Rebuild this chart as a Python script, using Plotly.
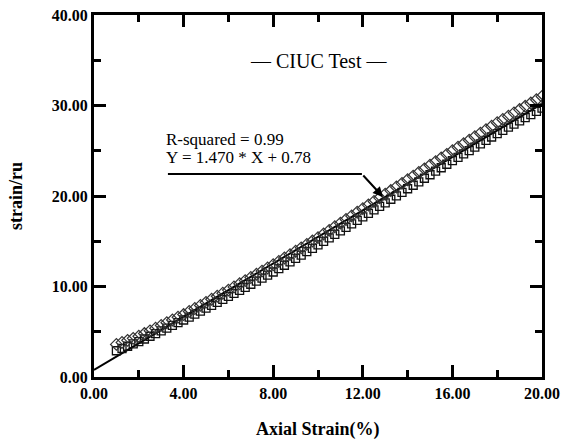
import plotly.graph_objects as go

# Axial strain (%) sample positions
strain_x = [1.00, 1.25, 1.50, 1.75, 2.00, 2.25, 2.50, 2.75, 3.00, 3.25, 3.50, 3.75,
            4.00, 4.25, 4.50, 4.75, 5.00, 5.25, 5.50, 5.75, 6.00, 6.25, 6.50, 6.75,
            7.00, 7.25, 7.50, 7.75, 8.00, 8.25, 8.50, 8.75, 9.00, 9.25, 9.50, 9.75,
            10.00, 10.25, 10.50, 10.75, 11.00, 11.25, 11.50, 11.75, 12.00, 12.25, 12.50, 12.75,
            13.00, 13.25, 13.50, 13.75, 14.00, 14.25, 14.50, 14.75, 15.00, 15.25, 15.50, 15.75,
            16.00, 16.25, 16.50, 16.75, 17.00, 17.25, 17.50, 17.75, 18.00, 18.25, 18.50, 18.75,
            19.00, 19.25, 19.50, 19.75, 20.00]

# lower series (squares)
square_y = [2.90, 3.15, 3.40, 3.65, 3.90, 4.20, 4.50, 4.80, 5.10, 5.40, 5.70, 6.00,
            6.30, 6.62, 6.95, 7.27, 7.60, 7.92, 8.25, 8.57, 8.90, 9.24, 9.57, 9.91,
            10.25, 10.59, 10.92, 11.26, 11.60, 11.97, 12.35, 12.72, 13.10, 13.47, 13.85, 14.22,
            14.60, 14.99, 15.37, 15.76, 16.15, 16.54, 16.92, 17.31, 17.70, 18.09, 18.47, 18.86,
            19.25, 19.64, 20.02, 20.41, 20.80, 21.19, 21.57, 21.96, 22.35, 22.74, 23.12, 23.51,
            23.90, 24.27, 24.65, 25.02, 25.40, 25.77, 26.15, 26.52, 26.90, 27.25, 27.60, 27.95,
            28.30, 28.65, 29.00, 29.35, 29.70]

# upper series (diamonds)
diamond_y = [3.60, 3.82, 4.05, 4.27, 4.50, 4.80, 5.10, 5.40, 5.70, 6.00, 6.30, 6.60,
             6.90, 7.24, 7.57, 7.91, 8.25, 8.59, 8.92, 9.26, 9.60, 9.95, 10.30, 10.65,
             11.00, 11.35, 11.70, 12.05, 12.40, 12.77, 13.15, 13.52, 13.90, 14.27, 14.65, 15.02,
             15.40, 15.80, 16.20, 16.60, 17.00, 17.40, 17.80, 18.20, 18.60, 19.00, 19.40, 19.80,
             20.20, 20.60, 21.00, 21.40, 21.80, 22.20, 22.60, 23.00, 23.40, 23.80, 24.20, 24.60,
             25.00, 25.39, 25.77, 26.16, 26.55, 26.94, 27.32, 27.71, 28.10, 28.46, 28.82, 29.19,
             29.55, 29.91, 30.27, 30.64, 31.00]

# regression line Y = 1.470 * X + 0.78
fit_x = [0.0, 20.0]
fit_y = [0.78, 30.18]

x_ticks = [0, 4, 8, 12, 16, 20]
y_ticks = [0, 10, 20, 30, 40]

FONT = "Liberation Serif"

fig = go.Figure()
fig.add_trace(go.Scatter(x=fit_x, y=fit_y, mode="lines",
                         line=dict(color="black", width=2), showlegend=False))
fig.add_trace(go.Scatter(x=strain_x, y=square_y, mode="markers",
                         marker=dict(symbol="square-open", size=8, color="#111",
                                     line=dict(width=1.3)), showlegend=False))
fig.add_trace(go.Scatter(x=strain_x, y=diamond_y, mode="markers",
                         marker=dict(symbol="diamond-open", size=9, color="#333",
                                     line=dict(width=1.2)), showlegend=False))

axis_common = dict(showgrid=False, zeroline=False, showline=True, linecolor="black",
                   linewidth=3, mirror="allticks", ticks="inside", ticklen=12,
                   tickwidth=3, tickcolor="black", tickformat=".2f", automargin=False,
                   tickfont=dict(family=FONT, size=16, color="black", weight="bold"))

fig.update_xaxes(range=[0, 20], tickvals=x_ticks,
                 minor=dict(dtick=2, ticks="inside", ticklen=7, tickwidth=3, tickcolor="black"),
                 **axis_common)
fig.update_yaxes(range=[0, 40], tickvals=y_ticks,
                 minor=dict(dtick=5, ticks="inside", ticklen=7, tickwidth=3, tickcolor="black"),
                 **axis_common)

# axis titles
fig.add_annotation(x=0.5, y=0, xref="paper", yref="paper", yanchor="top", yshift=-40,
                   text="Axial Strain(%)", showarrow=False,
                   font=dict(family=FONT, size=18, color="black", weight="bold"))
fig.add_annotation(x=0, y=0.5, xref="paper", yref="paper", xanchor="center", xshift=-78,
                   text="strain/ru", textangle=-90, showarrow=False,
                   font=dict(family=FONT, size=18, color="black", weight="bold"))

fig.add_annotation(x=10.0, y=34.9, xref="x", yref="y", text="— CIUC Test —",
                   showarrow=False, font=dict(family=FONT, size=20, color="black"))
fig.add_annotation(x=3.15, y=26.2, xref="x", yref="y", xanchor="left", borderpad=0,
                   text="R-squared = 0.99", showarrow=False,
                   font=dict(family=FONT, size=17, color="black"))
fig.add_annotation(x=3.15, y=24.3, xref="x", yref="y", xanchor="left", borderpad=0,
                   text="Y = 1.470 * X + 0.78", showarrow=False,
                   font=dict(family=FONT, size=17, color="black"))
fig.add_shape(type="line", xref="x", yref="y", x0=3.3, y0=22.43, x1=11.96, y1=22.43,
              line=dict(color="black", width=2))
fig.add_annotation(x=12.9, y=19.9, xref="x", yref="y", ax=11.96, ay=22.43,
                   axref="x", ayref="y", showarrow=True, arrowhead=2, arrowsize=1,
                   arrowwidth=2, arrowcolor="black", text="")

fig.update_layout(width=563, height=443, margin=dict(l=94, r=21, t=15, b=66),
                  plot_bgcolor="white", paper_bgcolor="white")

fig.write_html("out.html")
